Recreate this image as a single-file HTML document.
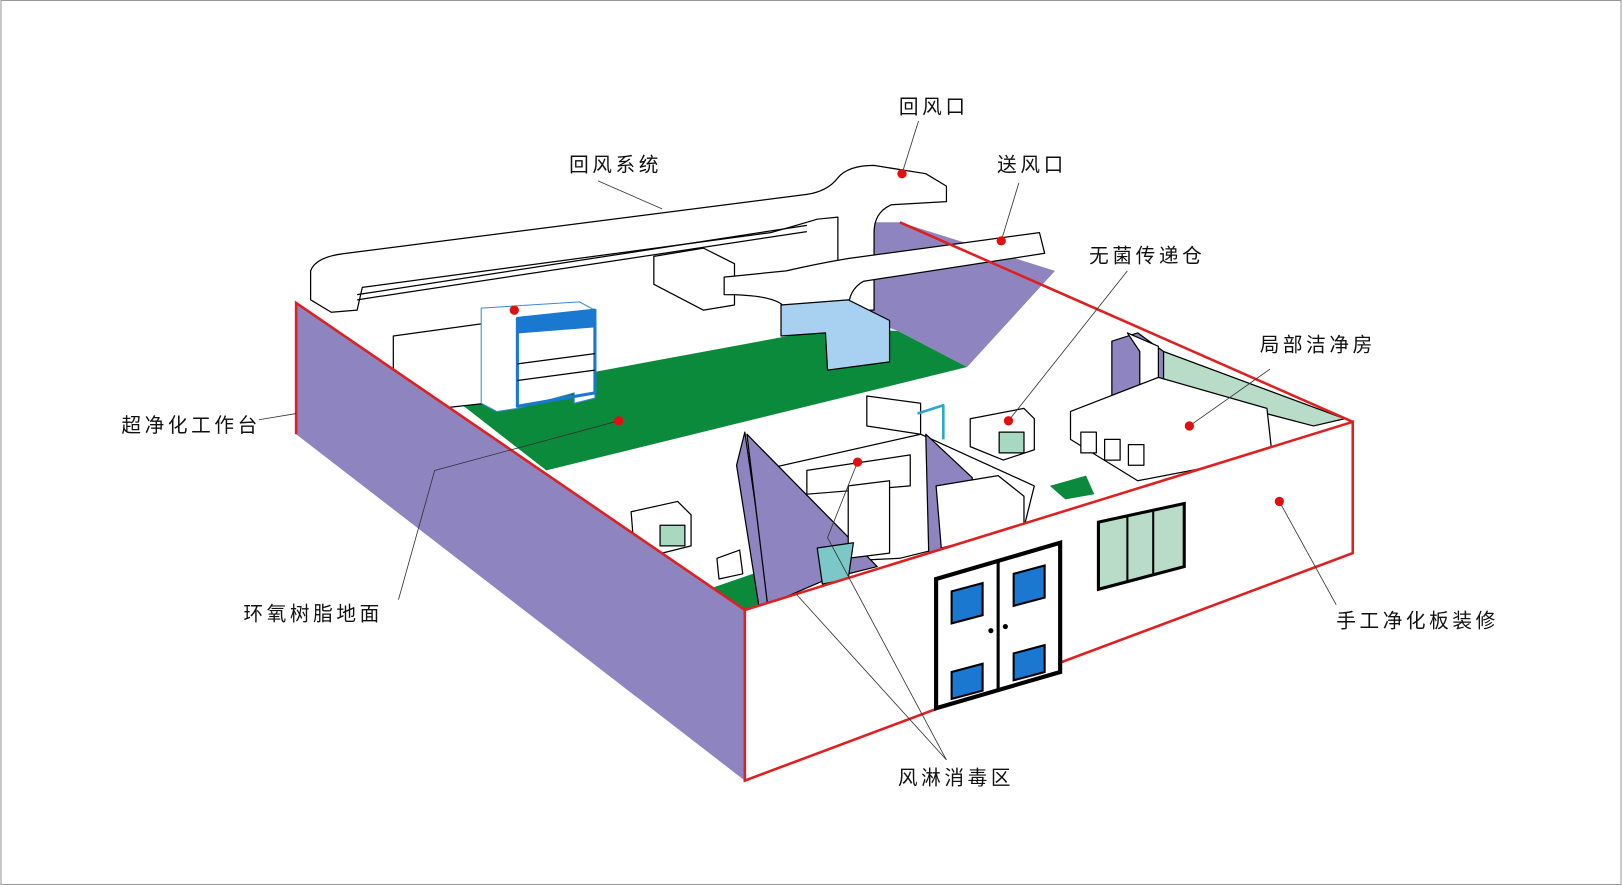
<!DOCTYPE html>
<html><head><meta charset="utf-8"><style>
html,body{margin:0;padding:0;background:#fff}
svg{display:block}
text{font-family:"Liberation Sans","Noto Sans CJK SC",sans-serif;font-size:19px;letter-spacing:3.5px;fill:#111}
</style></head><body>
<svg width="1622" height="885" viewBox="0 0 1568 856" xmlns="http://www.w3.org/2000/svg">
<rect x="0.5" y="0.5" width="1567" height="855" fill="#fff" stroke="#999"/>
<g stroke="#000" stroke-width="1.2" stroke-linejoin="round">
<polygon points="286,293 330,300 870,215 1308,408 720,590" fill="#fff" stroke="none"/>
<polygon points="810,215 870,215 1020,262 935,355 868,320 810,300" fill="#8e85c0" stroke="none"/>
<polygon points="1100,330 1125,340 1300,405 1270,412 1110,370" fill="#b8dcc8" stroke="#000"/>
<polygon points="438,385 800,318 868,320 935,355 528,455" fill="#0b8a3c" stroke="none"/>
<polygon points="690,568 728,555 740,585 720,590" fill="#0b8a3c" stroke="none"/>
<polygon points="1015,470 1050,460 1058,478 1030,483" fill="#0b8a3c" stroke="none"/>
<polygon points="380,325 560,300 560,380 380,400" fill="#fff"/>
<path d="M300,290 L300,262 Q305,248 335,245 L780,188 Q800,185 810,172 Q820,160 845,160 L895,168 L915,180 L915,195 L862,198 Q845,205 845,225 L845,300 L810,300 L810,210 L790,212 Q770,218 745,225 L350,278 L345,300 L320,302 Z" fill="#fff"/>
<line x1="345" y1="285" x2="780" y2="218"/><line x1="345" y1="290" x2="780" y2="224"/>
<polygon points="632,248 680,240 710,255 710,295 680,300 632,275" fill="#fff"/>
<path d="M700,268 L760,262 Q790,255 820,250 L1005,225 L1010,245 L835,272 Q820,280 820,300 L760,300 Q755,285 700,285 Z" fill="#fff"/>
<polygon points="755,295 820,290 860,310 860,350 800,358 798,322 755,325" fill="#a8d0f0"/>
<polygon points="465,298 560,292 575,300 575,385 555,390 555,380 500,395 480,398 465,390" fill="#fff" stroke="#3a8ad8" stroke-width="1"/>
<polygon points="500,308 575,300 575,316 500,322" fill="#1a78d0" stroke="#1a78d0"/>
<polygon points="500,308 575,300 575,380 500,393" fill="none" stroke="#1a78d0" stroke-width="3"/>
<line x1="500" y1="352" x2="575" y2="342"/><line x1="500" y1="368" x2="575" y2="358"/>
<polygon points="838,383 890,390 890,420 838,412" fill="#fff"/>
<polyline points="887,400 912,392 912,425" fill="none" stroke="#2aa8c8" stroke-width="2.5"/>
<polygon points="720,418 745,590 735,595 712,450" fill="#8e85c0"/>
<polygon points="735,455 890,420 1000,470 990,510 870,540 770,545 745,530" fill="#fff"/>
<polygon points="722,420 848,548 800,560 742,585" fill="#8e85c0"/>
<polygon points="780,455 880,440 880,470 780,478" fill="#fff"/>
<polygon points="820,470 860,465 860,535 820,540" fill="#fff"/>
<polygon points="895,420 940,462 940,510 898,540" fill="#8e85c0"/>
<polygon points="905,470 965,460 990,480 990,510 910,530" fill="#fff"/>
<polygon points="790,530 825,525 820,560 795,565" fill="#7cc8c8"/>
<polygon points="1075,330 1100,322 1125,340 1125,378 1075,388" fill="#8e85c0"/>
<polygon points="1090,322 1120,335 1120,380 1102,380 1102,340" fill="#fff"/>
<polygon points="1035,398 1120,365 1225,395 1230,440 1100,465 1035,425" fill="#fff"/>
<g fill="#fff"><rect x="1045" y="418" width="15" height="20"/><rect x="1068" y="425" width="15" height="20"/><rect x="1091" y="430" width="15" height="20"/></g>
<polygon points="938,405 990,395 1000,405 1000,435 970,445 938,432" fill="#fff"/>
<rect x="966" y="418" width="24" height="20" fill="#a8d8c0"/>
<polygon points="610,495 655,485 668,498 668,528 640,535 612,520" fill="#fff"/>
<rect x="638" y="508" width="24" height="20" fill="#a8d8c0"/>
<polygon points="693,540 715,532 718,555 695,560" fill="#fff"/>
<polygon points="286,293 720,590 720,755 286,420" fill="#8e85c0" stroke="none"/>
<polygon points="720,590 1308,408 1308,535 720,755" fill="#fff" stroke="none"/>
<line x1="720" y1="590" x2="720" y2="755" stroke="#000"/>
</g>
<g fill="none" stroke="#e02020" stroke-width="2.5">
<polyline points="286,420 286,293 720,590 1308,408 1308,535 720,755 720,590"/>
<line x1="870" y1="215" x2="1308" y2="408"/>
</g>
<g stroke="#000">
<polygon points="905,560 1025,525 1025,650 905,685" fill="#fff" stroke-width="4"/>
<line x1="965" y1="543" x2="965" y2="668" stroke-width="3"/>
<polygon points="920,572 950,564 950,595 920,603" fill="#1a78d0" stroke-width="2"/>
<polygon points="980,555 1010,547 1010,578 980,586" fill="#1a78d0" stroke-width="2"/>
<polygon points="920,650 950,642 950,668 920,676" fill="#1a78d0" stroke-width="2"/>
<polygon points="980,632 1010,624 1010,650 980,658" fill="#1a78d0" stroke-width="2"/>
<polygon points="1062,505 1145,487 1145,548 1062,570" fill="#b8dcc8" stroke-width="3"/>
<line x1="1090" y1="500" x2="1090" y2="562" stroke-width="2"/><line x1="1115" y1="494" x2="1115" y2="555" stroke-width="2"/>
</g>
<circle cx="958" cy="610" r="2.5"/><circle cx="972" cy="606" r="2.5"/>
<g stroke="#333" stroke-width="0.8" fill="none">
<line x1="888" y1="117" x2="872" y2="168"/>
<line x1="578" y1="175" x2="640" y2="202"/>
<line x1="985" y1="177" x2="968" y2="233"/>
<line x1="1090" y1="262" x2="975" y2="407"/>
<line x1="1228" y1="357" x2="1150" y2="412"/>
<line x1="250" y1="406" x2="286" y2="400"/>
<polyline points="385,580 420,455 598,407"/>
<line x1="1292" y1="585" x2="1237" y2="485"/>
<polyline points="915,735 800,520 829,447"/>
<line x1="915" y1="735" x2="770" y2="575"/>
</g>
<g fill="#e01010">
<circle cx="872" cy="168" r="4.5"/><circle cx="968" cy="233" r="4.5"/><circle cx="975" cy="407" r="4.5"/>
<circle cx="1150" cy="412" r="4.5"/><circle cx="497" cy="300" r="4.5"/><circle cx="598" cy="407" r="4.5"/>
<circle cx="829" cy="447" r="4.5"/><circle cx="1237" cy="485" r="4.5"/>
</g>
<text x="869" y="110">回风口</text>
<text x="550" y="166">回风系统</text>
<text x="964" y="166">送风口</text>
<text x="1053" y="254">无菌传递仓</text>
<text x="1218" y="340">局部洁净房</text>
<text x="117" y="418">超净化工作台</text>
<text x="235" y="600">环氧树脂地面</text>
<text x="868" y="759">风淋消毒区</text>
<text x="1292" y="607">手工净化板装修</text>
</svg>
</body></html>
